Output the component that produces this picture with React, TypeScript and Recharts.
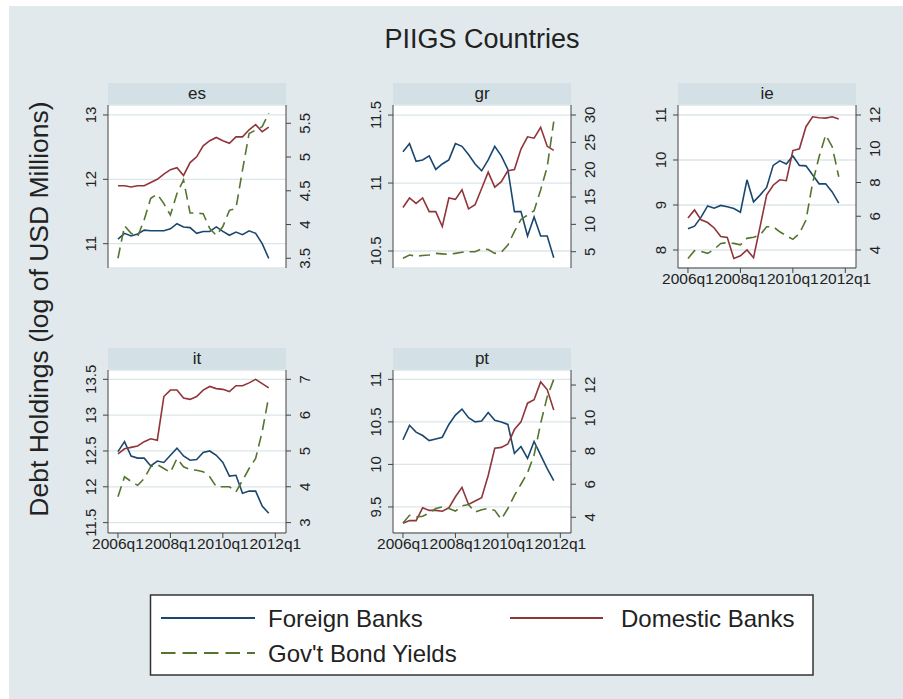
import { LineChart, Line, XAxis, YAxis, CartesianGrid } from "recharts";

const FONT = '"Liberation Sans", Arial, Helvetica, sans-serif';
const INK = "#222";
const AXIS = "#444";
const BG = "#E1E9EC";
const STRIP = "#D3E0E5";
const GRID = "#DCE6E9";
const BLUE = "#1a476f";
const RED = "#90353b";
const GREEN = "#55752f";

// 2006q1 .. 2011q4
const QUARTERS = [
  "2006q1", "2006q2", "2006q3", "2006q4", "2007q1", "2007q2", "2007q3", "2007q4",
  "2008q1", "2008q2", "2008q3", "2008q4", "2009q1", "2009q2", "2009q3", "2009q4",
  "2010q1", "2010q2", "2010q3", "2010q4", "2011q1", "2011q2", "2011q3", "2011q4",
];
const X_TICKS = [0, 8, 16, 24];
const X_TICK_LABELS = ["2006q1", "2008q1", "2010q1", "2012q1"];

const SERIES_NAMES = ["Foreign Banks", "Domestic Banks", "Gov't Bond Yields"];

const esForeign = [11.07, 11.16, 11.12, 11.15, 11.21, 11.2, 11.2, 11.2, 11.23, 11.31, 11.26, 11.25, 11.16, 11.19, 11.19, 11.26, 11.19, 11.13, 11.18, 11.14, 11.2, 11.16, 11.0, 10.77];
const esDomestic = [11.9, 11.9, 11.88, 11.9, 11.9, 11.95, 12.0, 12.08, 12.15, 12.18, 12.06, 12.26, 12.35, 12.52, 12.6, 12.65, 12.6, 12.56, 12.66, 12.66, 12.77, 12.85, 12.74, 12.81];
const esYield = [3.5, 3.98, 3.87, 3.82, 4.07, 4.39, 4.45, 4.31, 4.14, 4.46, 4.66, 4.17, 4.17, 4.16, 3.94, 3.84, 3.97, 4.21, 4.24, 4.81, 5.35, 5.4, 5.45, 5.65];

const grForeign = [11.23, 11.29, 11.16, 11.17, 11.2, 11.1, 11.14, 11.17, 11.29, 11.27, 11.21, 11.14, 11.09, 11.17, 11.27, 11.2, 11.1, 10.79, 10.79, 10.61, 10.75, 10.61, 10.61, 10.45];
const grDomestic = [10.82, 10.89, 10.85, 10.89, 10.79, 10.79, 10.68, 10.89, 10.88, 10.95, 10.81, 10.84, 10.96, 11.08, 10.97, 11.01, 11.09, 11.1, 11.25, 11.34, 11.33, 11.41, 11.27, 11.24];
const grYield = [3.8, 4.4, 4.2, 4.3, 4.4, 4.7, 4.6, 4.5, 4.7, 4.9, 5.0, 5.0, 5.5, 5.4, 4.7, 4.9, 6.2, 8.7, 10.9, 11.7, 12.5, 16.3, 20.5, 28.8];

const ieForeign = [8.47, 8.53, 8.73, 8.98, 8.93, 8.99, 8.96, 8.92, 8.84, 9.56, 9.07, 9.22, 9.39, 9.88, 9.98, 9.91, 10.09, 9.88, 9.87, 9.67, 9.47, 9.47, 9.29, 9.04];
const ieDomestic = [8.71, 8.89, 8.67, 8.61, 8.49, 8.3, 8.28, 7.81, 7.87, 8.0, 7.83, 8.52, 9.22, 9.44, 9.56, 9.54, 10.21, 10.25, 10.74, 10.96, 10.94, 10.93, 10.96, 10.91];
const ieYield = [3.5, 3.96, 3.92, 3.8, 4.04, 4.39, 4.43, 4.39, 4.31, 4.69, 4.75, 4.89, 5.38, 5.38, 5.08, 4.85, 4.63, 4.98, 5.77, 7.95, 9.53, 10.81, 10.12, 8.34];

const itForeign = [12.49, 12.63, 12.43, 12.4, 12.4, 12.29, 12.36, 12.34, 12.44, 12.54, 12.43, 12.37, 12.38, 12.48, 12.5, 12.44, 12.34, 12.15, 12.16, 11.91, 11.94, 11.94, 11.73, 11.63];
const itDomestic = [12.46, 12.53, 12.55, 12.57, 12.63, 12.67, 12.65, 13.26, 13.35, 13.35, 13.24, 13.22, 13.26, 13.35, 13.4, 13.37, 13.36, 13.33, 13.41, 13.41, 13.45, 13.5, 13.44, 13.38];
const itYield = [3.72, 4.28, 4.15, 4.04, 4.23, 4.56, 4.62, 4.51, 4.4, 4.79, 4.56, 4.48, 4.46, 4.42, 4.28, 4.0, 4.0, 4.0, 3.86, 4.18, 4.51, 4.79, 5.54, 6.52];

const ptForeign = [10.29, 10.46, 10.38, 10.34, 10.28, 10.3, 10.32, 10.47, 10.58, 10.65, 10.55, 10.5, 10.51, 10.61, 10.52, 10.5, 10.47, 10.13, 10.21, 10.07, 10.27, 10.11, 9.95, 9.81];
const ptDomestic = [9.31, 9.34, 9.34, 9.49, 9.46, 9.46, 9.45, 9.49, 9.62, 9.73, 9.53, 9.57, 9.61, 9.87, 10.19, 10.2, 10.24, 10.41, 10.5, 10.72, 10.76, 10.97, 10.88, 10.64];
const ptYield = [3.66, 4.12, 4.02, 4.06, 4.26, 4.53, 4.63, 4.53, 4.38, 4.69, 4.77, 4.32, 4.46, 4.53, 4.42, 3.88, 4.53, 5.33, 6.0, 6.69, 7.76, 9.68, 11.29, 12.34];

const PANELS = [
  { name: "es", col: 0, row: 0, foreign: esForeign, domestic: esDomestic, yields: esYield,
    left: [10.622, 13.155], leftTicks: [11, 12, 13], right: [3.356, 5.771], rightTicks: [3.5, 4, 4.5, 5, 5.5], showX: false },
  { name: "gr", col: 1, row: 0, foreign: grForeign, domestic: grDomestic, yields: grYield,
    left: [10.375, 11.574], leftTicks: [10.5, 11, 11.5], right: [2.02, 31.83], rightTicks: [5, 10, 15, 20, 25, 30], showX: false },
  { name: "ie", col: 2, row: 0, foreign: ieForeign, domestic: ieDomestic, yields: ieYield,
    left: [7.6, 11.222], leftTicks: [8, 9, 10, 11], right: [2.933, 12.593], rightTicks: [4, 6, 8, 10, 12], showX: true },
  { name: "it", col: 0, row: 1, foreign: itForeign, domestic: itDomestic, yields: itYield,
    left: [11.355, 13.63], leftTicks: [11.5, 12, 12.5, 13, 13.5], right: [2.71, 7.26], rightTicks: [3, 4, 5, 6, 7], showX: true },
  { name: "pt", col: 1, row: 1, foreign: ptForeign, domestic: ptDomestic, yields: ptYield,
    left: [9.194, 11.11], leftTicks: [9.5, 10, 10.5, 11], right: [3.05, 12.91], rightTicks: [4, 6, 8, 10, 12], showX: true },
];

const COL_X = [108, 393, 678];
const ROW_Y = [105, 370];
const PLOT_W = 178;
const PLOT_H = 163;
const AXIS_W = 60;
const X_AXIS_H = 30;
const TOP_PAD = 24;
const STRIP_H = 22;

const LeftTick = ({ x, y, payload }: any) => (
  <text x={x - 7} y={y} transform={`rotate(-90 ${x - 7} ${y})`} textAnchor="middle"
    fontSize={15} fill={INK} fontFamily={FONT}>{String(payload.value)}</text>
);

const RightTick = ({ x, y, payload }: any) => (
  <text x={x + 19} y={y} transform={`rotate(-90 ${x + 19} ${y})`} textAnchor="middle"
    fontSize={15} fill={INK} fontFamily={FONT}>{String(payload.value)}</text>
);

const BottomTick = ({ x, y, payload }: any) => (
  <text x={x} y={y + 11} textAnchor="middle" fontSize={15.5} fill={INK} fontFamily={FONT}>
    {X_TICK_LABELS[X_TICKS.indexOf(payload.value)]}
  </text>
);

const Panel = ({ p }: { p: (typeof PANELS)[number] }) => {
  const plotLeft = COL_X[p.col];
  const plotTop = ROW_Y[p.row];
  const data = QUARTERS.map((q, i) => ({
    t: i,
    q,
    foreign: p.foreign[i],
    domestic: p.domestic[i],
    yields: p.yields[i],
  }));

  return (
    <>
      <div
        style={{
          position: "absolute",
          left: plotLeft,
          top: plotTop - STRIP_H,
          width: PLOT_W,
          height: STRIP_H,
          background: STRIP,
          textAlign: "center",
          lineHeight: `${STRIP_H}px`,
          fontSize: 17,
          color: INK,
          fontFamily: FONT,
        }}
      >
        {p.name}
      </div>
      <div style={{ position: "absolute", left: plotLeft - AXIS_W, top: plotTop - TOP_PAD }}>
        <LineChart
          width={PLOT_W + 2 * AXIS_W}
          height={PLOT_H + X_AXIS_H + TOP_PAD}
          data={data}
          margin={{ top: TOP_PAD, right: 0, bottom: 0, left: 0 }}
        >
          <CartesianGrid yAxisId="l" vertical={false} fill="#ffffff" stroke={GRID} strokeWidth={1.3} />
          <XAxis
            dataKey="t"
            type="number"
            domain={[-1.52, 25.63]}
            allowDataOverflow
            ticks={X_TICKS}
            height={X_AXIS_H}
            tickSize={5}
            tickMargin={0}
            stroke={AXIS}
            axisLine={p.showX}
            tickLine={p.showX}
            tick={p.showX ? BottomTick : false}
          />
          <YAxis
            yAxisId="l"
            orientation="left"
            width={AXIS_W}
            type="number"
            domain={p.left}
            allowDataOverflow
            ticks={p.leftTicks}
            tickSize={5}
            tickMargin={0}
            stroke={AXIS}
            tick={LeftTick}
          />
          <YAxis
            yAxisId="r"
            orientation="right"
            width={AXIS_W}
            type="number"
            domain={p.right}
            allowDataOverflow
            ticks={p.rightTicks}
            tickSize={5}
            tickMargin={0}
            stroke={AXIS}
            tick={RightTick}
          />
          <Line yAxisId="l" type="linear" dataKey="foreign" name={SERIES_NAMES[0]} stroke={BLUE}
            strokeWidth={1.6} dot={false} isAnimationActive={false} />
          <Line yAxisId="l" type="linear" dataKey="domestic" name={SERIES_NAMES[1]} stroke={RED}
            strokeWidth={1.6} dot={false} isAnimationActive={false} />
          <Line yAxisId="r" type="linear" dataKey="yields" name={SERIES_NAMES[2]} stroke={GREEN}
            strokeWidth={1.6} strokeDasharray="11 6" dot={false} isAnimationActive={false} />
        </LineChart>
      </div>
    </>
  );
};

export default function App() {
  return (
    <div
      style={{
        position: "absolute",
        left: 0,
        top: 0,
        width: 903,
        height: 699,
        background: "#ffffff",
        overflow: "hidden",
        fontFamily: FONT,
      }}
    >
      <div style={{ position: "absolute", left: 9, top: 6, right: 0, bottom: 0, background: BG }} />
      <svg width={903} height={699} style={{ position: "absolute", left: 0, top: 0 }}>
        <text x={482} y={48} textAnchor="middle" fontSize={27} fill={INK} fontFamily={FONT}>
          PIIGS Countries
        </text>
        <text x={48} y={309} transform="rotate(-90 48 309)" textAnchor="middle" fontSize={26.5}
          fill={INK} fontFamily={FONT}>
          Debt Holdings (log of USD Millions)
        </text>
        <rect x={150.5} y={595} width={662.5} height={80} fill="#ffffff" stroke="#333" strokeWidth={1.5} />
        <line x1={161} x2={255} y1={618} y2={618} stroke={BLUE} strokeWidth={2} />
        <text x={268} y={626.5} fontSize={24} fill={INK} fontFamily={FONT}>{SERIES_NAMES[0]}</text>
        <line x1={510} x2={603} y1={618} y2={618} stroke={RED} strokeWidth={2} />
        <text x={621} y={626.5} fontSize={24} fill={INK} fontFamily={FONT}>{SERIES_NAMES[1]}</text>
        <line x1={161} x2={255} y1={653} y2={653} stroke={GREEN} strokeWidth={2} strokeDasharray="14.5 7" />
        <text x={268} y={661.5} fontSize={24} fill={INK} fontFamily={FONT}>{SERIES_NAMES[2]}</text>
      </svg>
      {PANELS.map((p) => (
        <Panel key={p.name} p={p} />
      ))}
    </div>
  );
}
